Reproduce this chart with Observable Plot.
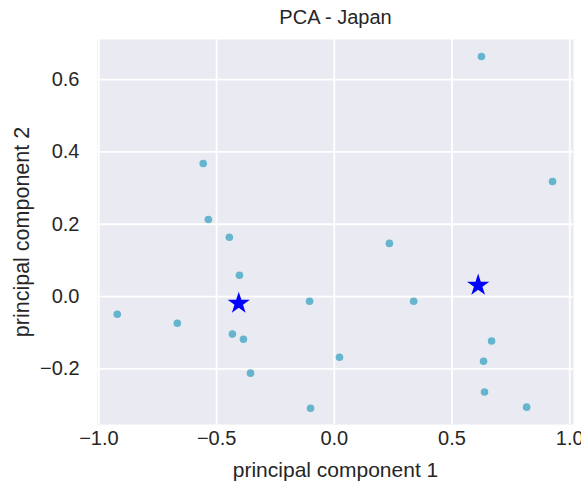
<!DOCTYPE html>
<html>
<head>
<meta charset="utf-8">
<script src="https://cdn.jsdelivr.net/npm/d3@7"></script>
<script src="https://cdn.jsdelivr.net/npm/@observablehq/plot@0.6"></script>
<style>
  html, body { margin: 0; padding: 0; background: #ffffff; }
  #chart { width: 581px; height: 488px; }
</style>
</head>
<body>
<div id="chart"></div>
<script>
const pc1 = [0.625, 0.927, -0.557, -0.535, -0.446, -0.403, 0.234, -0.105, 0.337, -0.922,
             -0.667, -0.433, -0.386, -0.356, 0.022, -0.101, 0.668, 0.634, 0.638, 0.817];
const pc2 = [0.664, 0.318, 0.368, 0.213, 0.164, 0.059, 0.147, -0.013, -0.013, -0.049,
             -0.074, -0.104, -0.118, -0.212, -0.168, -0.309, -0.123, -0.179, -0.264, -0.306];
const centerX = [-0.406, 0.611];
const centerY = [-0.019, 0.031];
const xTicks = [-1.0, -0.5, 0.0, 0.5, 1.0];
const yTicks = [-0.2, 0.0, 0.2, 0.4, 0.6];
const title = "PCA - Japan";
const xLabel = "principal component 1";
const yLabel = "principal component 2";

const points = pc1.map((x, i) => ({x, y: pc2[i]}));
const centers = centerX.map((x, i) => ({x, y: centerY[i]}));
const fmt = d3.format(".1f");
const font = "'Liberation Sans', Arial, sans-serif";
const ink = "#262626";

const chart = Plot.plot({
  width: 581,
  height: 488,
  marginLeft: 97,
  marginRight: 8,
  marginTop: 39,
  marginBottom: 64,
  style: {fontFamily: font, color: ink, background: "#ffffff", overflow: "visible"},
  x: {domain: [-1.006, 1.016]},
  y: {domain: [-0.354, 0.711]},
  marks: [
    Plot.frame({fill: "#eaeaf2", stroke: null}),
    Plot.gridX(xTicks, {stroke: "#ffffff", strokeOpacity: 1, strokeWidth: 1.8}),
    Plot.gridY(yTicks, {stroke: "#ffffff", strokeOpacity: 1, strokeWidth: 1.8}),
    Plot.axisX(xTicks, {tickSize: 0, tickPadding: 6, fontSize: 20, tickFormat: fmt, label: null, fill: ink}),
    Plot.axisY(yTicks, {tickSize: 0, tickPadding: 18, fontSize: 20, tickFormat: fmt, label: null, fill: ink}),
    Plot.dot(points, {x: "x", y: "y", r: 3.8, fill: "#64b5cd", stroke: "none"}),
    Plot.dot(centers, {x: "x", y: "y", symbol: "star", r: 7, fill: "#0000ff", stroke: "none"}),
    Plot.text([title], {frameAnchor: "top", lineAnchor: "middle", textAnchor: "middle", dy: -22, fontSize: 20, fill: ink}),
    Plot.text([xLabel], {frameAnchor: "bottom", lineAnchor: "middle", textAnchor: "middle", dy: 46, fontSize: 21, fill: ink}),
    Plot.text([yLabel], {frameAnchor: "left", lineAnchor: "middle", textAnchor: "middle", dx: -75, rotate: -90, fontSize: 21.5, fill: ink})
  ]
});
document.getElementById("chart").appendChild(chart);
</script>
</body>
</html>
